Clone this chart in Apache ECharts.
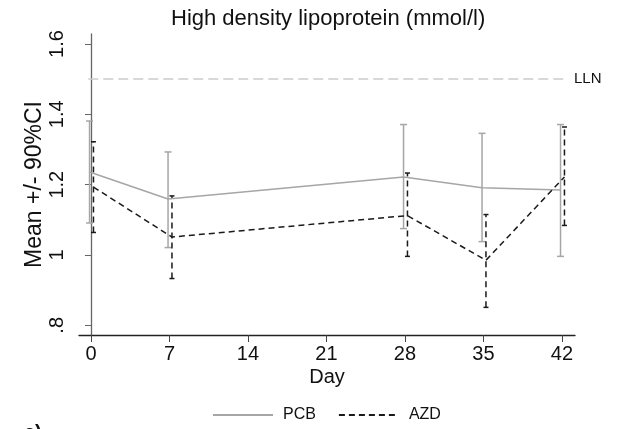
<!DOCTYPE html>
<html>
<head>
<meta charset="utf-8">
<script src="https://cdn.jsdelivr.net/npm/echarts@6/dist/echarts.min.js"></script>
<style>html,body{margin:0;padding:0;background:#fff}#c{width:625px;height:429px}</style>
</head>
<body>
<div id="c"></div>
<script>
// ---- data ----
var days = [0, 7, 28, 35, 42];
var xTicks = [0, 7, 14, 21, 28, 35, 42];
var yTicks = [0.8, 1.0, 1.2, 1.4, 1.6];
var yTickLabels = ['.8', '1', '1.2', '1.4', '1.6'];
var pcbMean  = [1.236, 1.159, 1.222, 1.191, 1.185];
var pcbLower = [1.091, 1.021, 1.075, 1.038, 0.996];
var pcbUpper = [1.381, 1.293, 1.371, 1.346, 1.371];
var azdMean  = [1.193, 1.051, 1.112, 0.985, 1.222];
var azdLower = [1.064, 0.933, 0.996, 0.851, 1.084];
var azdUpper = [1.322, 1.168, 1.233, 1.115, 1.364];
var lln = 1.5;

var PCB_COLOR = '#a6a6a6', AZD_COLOR = '#1a1a1a';
var pcbShift = -0.13, azdShift = 0.22;
var FONT = 'Liberation Sans, Arial, Helvetica, sans-serif';

function pts(mean, shift) { return days.map(function (d, i) { return [d + shift, mean[i]]; }); }
function bars(lo, hi, shift) { return days.map(function (d, i) { return [d + shift, lo[i], hi[i]]; }); }

function errRender(color, dash, cap) {
  return function (params, api) {
    var x = api.value(0);
    var p1 = api.coord([x, api.value(1)]);
    var p2 = api.coord([x, api.value(2)]);
    var st = { stroke: color, lineWidth: 1.5, lineDash: dash };
    var cs = { stroke: color, lineWidth: 1.5 };
    return {
      type: 'group',
      children: [
        { type: 'line', shape: { x1: p1[0], y1: p1[1], x2: p2[0], y2: p2[1] }, style: st },
        { type: 'line', shape: { x1: p1[0] - cap, y1: p1[1], x2: p1[0] + cap, y2: p1[1] }, style: cs },
        { type: 'line', shape: { x1: p2[0] - cap, y1: p2[1], x2: p2[0] + cap, y2: p2[1] }, style: cs }
      ]
    };
  };
}

var chart = echarts.init(document.getElementById('c'), null, { renderer: 'canvas' });
chart.setOption({
  animation: false,
  backgroundColor: '#fff',
  textStyle: { fontFamily: FONT },
  title: {
    text: 'High density lipoprotein (mmol/l)',
    left: 166, top: 3,
    textStyle: { fontFamily: FONT, fontSize: 22, fontWeight: 'normal', color: '#111' }
  },
  grid: { left: 79, right: 50, top: 34, bottom: 94, containLabel: false },
  legend: {
    top: 402, left: 207,
    itemWidth: 60, itemHeight: 10, itemGap: 22,
    itemStyle: { opacity: 0, borderWidth: 0 },
    textStyle: { fontFamily: FONT, fontSize: 16, color: '#111', padding: [0, 0, 0, 5] },
    data: ['PCB', 'AZD']
  },
  xAxis: {
    type: 'value', min: -1.07, max: 43.16,
    name: 'Day', nameLocation: 'middle', nameGap: 32, nameMoveOverlap: false,
    nameTextStyle: { fontFamily: FONT, fontSize: 20, color: '#111' },
    axisLine: { show: true, lineStyle: { color: '#222', width: 1.3 } },
    axisTick: { show: true, length: 7, customValues: xTicks, lineStyle: { color: '#444' } },
    axisLabel: { customValues: xTicks, fontSize: 20, color: '#111', margin: 9, fontFamily: FONT },
    splitLine: { show: false }
  },
  yAxis: {
    type: 'value', min: 0.7724, max: 1.6285,
    name: 'Mean +/- 90%CI', nameLocation: 'middle', nameGap: 33, nameRotate: 90, nameMoveOverlap: false,
    nameTextStyle: { fontFamily: FONT, fontSize: 23, color: '#111' },
    axisLine: { show: true, lineStyle: { color: '#666', width: 1.3 } },
    axisTick: { show: true, length: 6, customValues: yTicks, lineStyle: { color: '#666' } },
    axisLabel: {
      customValues: yTicks, rotate: 90, fontSize: 20, color: '#111', margin: 12, fontFamily: FONT,
      formatter: function (v) {
        for (var i = 0; i < yTicks.length; i++) if (Math.abs(yTicks[i] - v) < 1e-6) return yTickLabels[i];
        return '';
      }
    },
    splitLine: { show: false }
  },
  series: [
    {
      name: 'LLN', type: 'line', data: [], silent: true,
      markLine: {
        silent: true, symbol: 'none',
        lineStyle: { color: '#cccccc', type: [10, 5], width: 1.5 },
        label: { show: true, position: 'end', formatter: 'LLN', distance: 9, color: '#111', fontSize: 15, fontFamily: FONT },
        data: [[{ coord: [days[0] - 0.24, lln] }, { coord: [days[days.length - 1] + 0.27, lln] }]]
      }
    },
    {
      name: 'PCB', type: 'line', data: pts(pcbMean, pcbShift), symbol: 'none',
      itemStyle: { color: PCB_COLOR },
      lineStyle: { color: PCB_COLOR, width: 1.5, type: 'solid' }
    },
    {
      name: 'PCB bars', type: 'custom', data: bars(pcbLower, pcbUpper, pcbShift),
      encode: { x: 0, y: [1, 2] }, renderItem: errRender(PCB_COLOR, null, 3.5)
    },
    {
      name: 'AZD', type: 'line', data: pts(azdMean, azdShift), symbol: 'none',
      itemStyle: { color: AZD_COLOR },
      lineStyle: { color: AZD_COLOR, width: 1.5, type: [6, 4] }
    },
    {
      name: 'AZD bars', type: 'custom', data: bars(azdLower, azdUpper, azdShift),
      encode: { x: 0, y: [1, 2] }, renderItem: errRender(AZD_COLOR, [6, 4], 2.5)
    }
  ],
  graphic: [
    { type: 'text', left: 24, top: 423, style: { text: 'c)', font: 'bold 20px ' + FONT, fill: '#111' } }
  ]
});
</script>
</body>
</html>
